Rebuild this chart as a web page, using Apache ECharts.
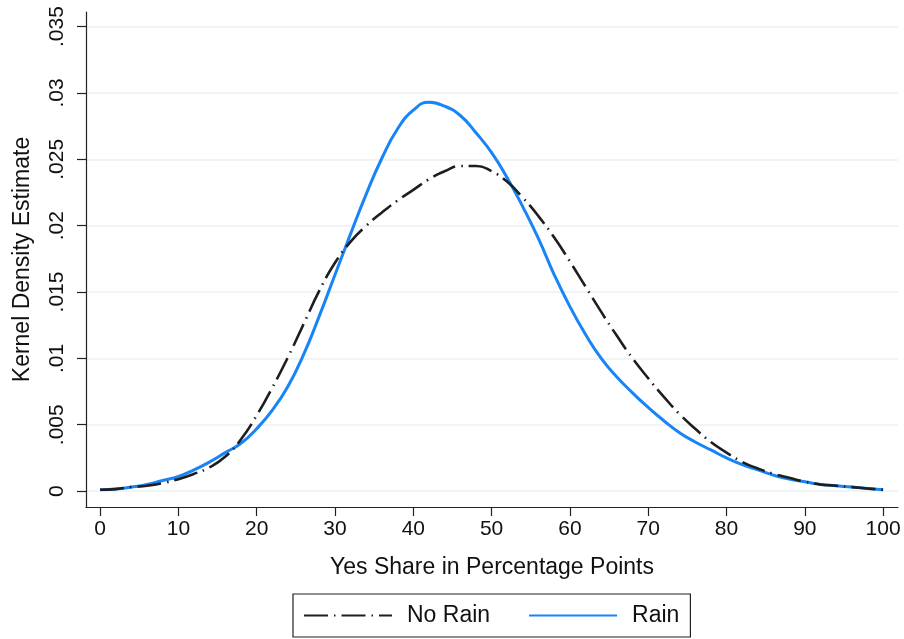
<!DOCTYPE html>
<html>
<head>
<meta charset="utf-8">
<script src="https://cdn.jsdelivr.net/npm/echarts@6/dist/echarts.min.js"></script>
<style>html,body{margin:0;padding:0;background:#fff;}#c{width:904px;height:639px;}</style>
</head>
<body>
<div id="c"></div>
<script>
var xs = [0,2,4,6,8,10,12,14,16,18,20,22,24,26,28,30,32,34,36,38,40,42,44,46,48,50,52,54,56,58,60,62,64,66,68,70,72,74,76,78,80,82,84,86,88,90,92,94,96,98,100];
var noRain = [0.0001,0.00015,0.0003,0.0004,0.0006,0.0009,0.0013,0.0018,0.0026,0.0039,0.0057,0.0078,0.0101,0.0126,0.0151,0.0172,0.0188,0.0200,0.0210,0.0219,0.0227,0.0235,0.0241,0.0245,0.0245,0.0241,0.0233,0.0221,0.0207,0.0191,0.0173,0.0154,0.0135,0.0117,0.0100,0.0085,0.0071,0.0058,0.0047,0.0037,0.0029,0.0022,0.0017,0.0013,0.0010,0.0007,0.0005,0.0004,0.0003,0.0002,0.0001];
var rain = [0.0001,0.00015,0.0003,0.0005,0.0008,0.0011,0.0016,0.0022,0.0029,0.0036,0.0047,0.0061,0.0079,0.0103,0.0132,0.0163,0.0194,0.0224,0.0251,0.0273,0.0287,0.0293,0.0290,0.0283,0.0270,0.0255,0.0236,0.0214,0.0190,0.0163,0.0139,0.0118,0.0100,0.0086,0.0074,0.0063,0.0053,0.0044,0.0037,0.0031,0.0025,0.0020,0.0016,0.0012,0.0009,0.0007,0.0005,0.0004,0.0003,0.0002,0.0001];
var xTicks = [0,10,20,30,40,50,60,70,80,90,100];
var yTicks = [0,0.005,0.01,0.015,0.02,0.025,0.03,0.035];

function zip(a, b) { return a.map(function (v, i) { return [v, b[i]]; }); }
var FONT = 'Liberation Sans, Arial, sans-serif';
var chart = echarts.init(document.getElementById('c'), null, {renderer: 'canvas'});
chart.setOption({
  animation: false,
  backgroundColor: '#fff',
  grid: {left: 86, right: 6, top: 12, bottom: 132, containLabel: false},
  xAxis: {
    type: 'value', min: -1.8, max: 101.9,
    name: 'Yes Share in Percentage Points', nameLocation: 'middle', nameGap: 49,
    nameTextStyle: {fontFamily: FONT, fontSize: 23, color: '#111'},
    axisLine: {show: true, onZero: false, lineStyle: {color: '#222', width: 1.2}},
    axisTick: {show: true, length: 9, customValues: xTicks, lineStyle: {color: '#222', width: 1.2}},
    axisLabel: {customValues: xTicks, margin: 12, fontFamily: FONT, fontSize: 21, color: '#111'},
    splitLine: {show: false}
  },
  yAxis: {
    type: 'value', min: -0.0012, max: 0.0361,
    name: 'Kernel Density Estimate', nameLocation: 'middle', nameGap: 52,
    nameTextStyle: {fontFamily: FONT, fontSize: 23, color: '#111'},
    axisLine: {show: true, onZero: false, lineStyle: {color: '#222', width: 1.2}},
    axisTick: {show: true, length: 9, customValues: yTicks, lineStyle: {color: '#222', width: 1.2}},
    axisLabel: {customValues: yTicks, margin: 18, rotate: 90, fontFamily: FONT, fontSize: 21, color: '#111',
      formatter: function (v) { return v === 0 ? '0' : String(+v.toFixed(4)).replace(/^0\./, '.'); }},
    splitLine: {show: true, lineStyle: {color: '#eaf2f3', width: 1.5}}
  },
  legend: {
    top: 594, left: 293,
    data: ['No Rain', 'Rain'],
    itemWidth: 88, itemHeight: 14, itemGap: 38,
    padding: [10, 11, 10, 10],
    borderColor: '#222', borderWidth: 1.2, borderRadius: 0,
    itemStyle: {opacity: 0},
    textStyle: {fontFamily: FONT, fontSize: 23, color: '#111', padding: [0, 0, 0, 10]}
  },
  series: [
    {
      name: 'No Rain', type: 'line', data: zip(xs, noRain), smooth: 0.5, symbol: 'none',
      lineStyle: {color: '#1e1e1e', width: 2.6, type: [24, 6, 1.5, 6]},
      itemStyle: {color: '#1e1e1e'}, z: 3
    },
    {
      name: 'Rain', type: 'line', data: zip(xs, rain), smooth: 0.5, symbol: 'none',
      lineStyle: {color: '#1784f7', width: 3}, itemStyle: {color: '#1784f7'}, z: 2
    }
  ]
});
</script>
</body>
</html>
